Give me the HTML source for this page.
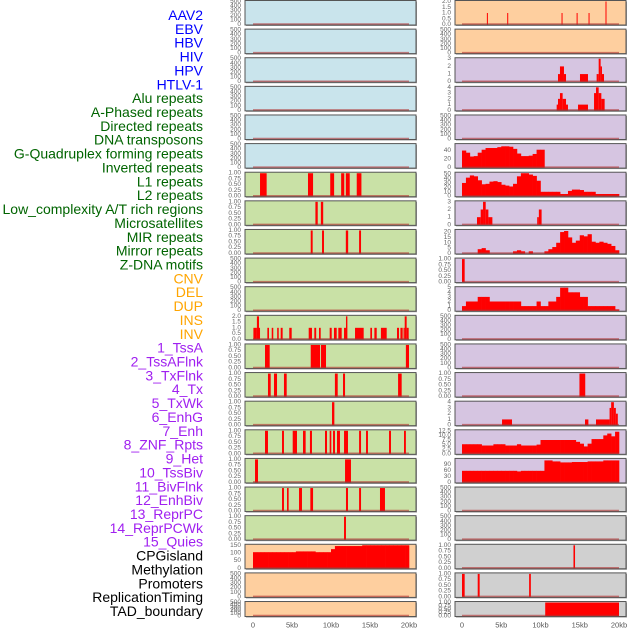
<!DOCTYPE html>
<html><head><meta charset="utf-8"><style>
html,body{margin:0;padding:0;background:#fff;}
svg{display:block;font-family:"Liberation Sans",sans-serif;}
</style></head><body>
<svg id="chart" width="630" height="630" viewBox="0 0 630 630"></svg>
<script>
// ---- label data ----
const trackLabels = ["AAV2","EBV","HBV","HIV","HPV","HTLV-1","Alu repeats","A-Phased repeats","Directed repeats","DNA transposons","G-Quadruplex forming repeats","Inverted repeats","L1 repeats","L2 repeats","Low_complexity A/T rich regions","Microsatellites","MIR repeats","Mirror repeats","Z-DNA motifs","CNV","DEL","DUP","INS","INV","1_TssA","2_TssAFlnk","3_TxFlnk","4_Tx","5_TxWk","6_EnhG","7_Enh","8_ZNF_Rpts","9_Het","10_TssBiv","11_BivFlnk","12_EnhBiv","13_ReprPC","14_ReprPCWk","15_Quies","CPGisland","Methylation","Promoters","ReplicationTiming","TAD_boundary"];
const labelGroups = ["v","v","v","v","v","v","r","r","r","r","r","r","r","r","r","r","r","r","r","c","c","c","c","c","s","s","s","s","s","s","s","s","s","s","s","s","s","s","s","k","k","k","k","k"];
const xTickValues = [0,5,10,15,20];
const xTickLabels = ["0","5kb","10kb","15kb","20kb"];

// ---- left column data (segments: [startKb, endKb, value]) ----
const L6 = [[0.9,1.75,1],[7.05,7.7,1],[9.9,10.4,1],[11.3,11.7,1],[11.9,12.4,1],[13.3,13.9,1]];
const L7 = [[8.0,8.3,1],[8.7,9.0,1]];
const L8 = [[7.4,7.65,1],[8.85,9.1,1],[11.9,12.2,1],[13.6,13.85,1]];
const L11 = [[0.05,0.5,1],[0.5,0.77,2],[0.77,0.9,1],[1.84,2.05,1],[2.4,2.6,1],[3.1,3.3,1],[3.55,3.8,1],[4.65,4.96,1],[7.14,7.56,1],[7.86,8.1,1],[8.46,8.68,1],[9.83,10.09,1],[10.38,10.73,1],[10.94,11.37,1],[11.67,11.92,1],[11.92,12.1,2],[13.08,14.19,1],[15.04,15.26,1],[15.56,15.86,1],[16.4,17.14,1],[18.46,18.72,1],[18.9,19.19,1],[19.3,19.45,1],[19.45,19.7,2],[19.7,19.96,1]];
const L12 = [[1.54,2.14,1],[7.4,8.6,1],[8.72,9.36,1],[19.6,20.0,1]];
const L13 = [[1.92,2.27,1],[2.69,3.08,1],[3.97,4.32,1],[10.5,10.86,1],[11.54,11.8,1],[18.6,19.06,1]];
const L14 = [[10.13,10.43,1]];
const L15 = [[1.54,1.92,1],[3.72,3.97,1],[5.09,5.64,1],[6.41,6.75,1],[7.3,7.56,1],[9.23,9.49,1],[9.83,10.04,1],[10.26,10.51,1],[10.77,11.15,1],[11.67,12.18,1],[13.6,13.85,1],[14.49,14.74,1],[17.44,17.69,1],[19.36,19.6,1]];
const L16 = [[0.26,0.64,1],[11.8,12.56,1]];
const L17 = [[3.72,3.97,1],[4.36,4.57,1],[5.9,6.28,1],[7.35,7.7,1],[11.92,12.18,1],[13.6,13.85,1],[16.28,16.92,1]];
const L18 = [[11.67,11.92,1]];
const L19bins = [105,105,105,105,105,105,105,105,105,105,105,110,110,110,110,110,105,105,105,105,125,145,145,145,145,145,145,145,150,150,150,150,150,150,150,150,150,150,150,150];

// ---- right column data ----
const R0 = [[3.17,3.3,1],[5.76,5.88,1],[12.68,12.8,1],[14.6,14.72,1],[16.12,16.24,1],[18.28,18.4,2]];
const R2 = [[12.23,12.48,1],[12.48,12.99,2],[12.99,13.25,1],[15.03,16.05,1],[17.15,17.41,1],[17.41,17.66,3],[17.66,17.83,2],[17.83,18.09,1]];
const R3 = [[12.06,12.23,1],[12.23,12.48,2],[12.48,12.82,3],[12.82,13.25,2],[13.25,13.5,1],[14.78,16.05,1],[16.82,17.07,3],[17.07,17.41,4],[17.41,17.75,3],[17.75,18.17,2]];
const R5bins = [40,35,26,27,35,42,46,46,46,48,50,50,49,44,33,27,27,28,32,42,42,0,0,0,0,0,0,0,0,0,0,0,0,0,0,0,0,0,0,0];
const R6bins = [30,42,47,45,36,27,28,33,34,32,26,24,22,28,45,52,52,49,46,35,10,10,10,10,10,5,5,12,15,15,14,10,10,10,5,5,5,5,5,5];
const R7 = [[1.91,2.38,1],[2.38,2.68,2],[2.68,3.02,3],[3.02,3.36,2],[3.36,3.87,1],[9.58,9.79,1],[9.79,10.14,2]];
const R8bins = [0,0,0,0,4,5,3,0,0,0,0,0,0,2,3,2,0,2,0,0,0,2,4,6,10,20,21,15,10,12,17,16,18,11,10,11,10,9,7,3];
const R9 = [[0,0.34,1]];
const R10bins = [1,2,2,2,3,3,3,2,2,2,2,2,2,2,2,1,1,1,1,2,1,1,2,2,3,5,5,4,4,4,3,3,1,1,1,1,1,1,1,0.3];
const R13 = [[14.96,15.7,1]];
const R14 = [[5.1,6.37,1],[15.67,16.1,1],[17.07,18.8,1],[18.8,19.0,3],[19.0,19.35,4],[19.35,19.6,3],[19.6,19.85,2]];
const R15bins = [5.2,5.2,5.2,5.2,5.2,4.5,4.5,4.5,5.2,5.2,5.2,4.5,4.5,4.5,5.2,4.5,4.5,4.5,4.5,5,7.5,7.5,7.5,7.5,7.5,7.5,7.5,7.5,7.5,6.5,5.5,4,5.5,8,8,8,10,11,9.5,12];
const R16bins = [58,58,58,58,58,58,58,58,58,58,58,58,58,58,55,58,58,58,58,58,58,110,110,105,105,100,100,100,102,102,102,102,105,105,105,105,110,110,110,110];
const R19 = [[14.2,14.4,1]];
const R20 = [[0,0.34,1],[2.0,2.25,1],[8.55,8.77,1]];
const R21 = [[10.6,20,1]];

// ---- tick sets ----
const ticksEmpty = [0,100,200,300,400,500];
const ticksBin = [0,0.25,0.5,0.75,1];
const ticks2 = [0,0.5,1,1.5,2];
const ticksCpg = [0,50,100,150];

const leftTracks = [
 {bg:"#c9e4ec",t:ticksEmpty,m:500,d:0},{bg:"#c9e4ec",t:ticksEmpty,m:500,d:0},{bg:"#c9e4ec",t:ticksEmpty,m:500,d:0},
 {bg:"#c9e4ec",t:ticksEmpty,m:500,d:0},{bg:"#c9e4ec",t:ticksEmpty,m:500,d:0},{bg:"#c9e4ec",t:ticksEmpty,m:500,d:0},
 {bg:"#c9e1a6",t:ticksBin,m:1,d:2,seg:L6},{bg:"#c9e1a6",t:ticksBin,m:1,d:2,seg:L7},{bg:"#c9e1a6",t:ticksBin,m:1,d:2,seg:L8},
 {bg:"#c9e1a6",t:ticksEmpty,m:500,d:0},{bg:"#c9e1a6",t:ticksEmpty,m:500,d:0},
 {bg:"#c9e1a6",t:ticks2,m:2,d:1,seg:L11},
 {bg:"#c9e1a6",t:ticksBin,m:1,d:2,seg:L12},{bg:"#c9e1a6",t:ticksBin,m:1,d:2,seg:L13},{bg:"#c9e1a6",t:ticksBin,m:1,d:2,seg:L14},
 {bg:"#c9e1a6",t:ticksBin,m:1,d:2,seg:L15},{bg:"#c9e1a6",t:ticksBin,m:1,d:2,seg:L16},{bg:"#c9e1a6",t:ticksBin,m:1,d:2,seg:L17},
 {bg:"#c9e1a6",t:ticksBin,m:1,d:2,seg:L18},
 {bg:"#fecf9f",t:ticksCpg,m:150,d:0,bins:L19bins},
 {bg:"#fecf9f",t:ticksEmpty,m:500,d:0},{bg:"#fecf9f",t:ticksEmpty,m:500,d:0}
];
const rightTracks = [
 {bg:"#fecf9f",t:ticks2,m:2,d:1,seg:R0},{bg:"#fecf9f",t:ticksEmpty,m:500,d:0},
 {bg:"#d6c5e1",t:[0,1,2,3],m:3,d:0,seg:R2},{bg:"#d6c5e1",t:[0,1,2,3,4],m:4,d:0,seg:R3},
 {bg:"#d6c5e1",t:ticksEmpty,m:500,d:0},
 {bg:"#d6c5e1",t:[0,20,40],m:54,d:0,bins:R5bins},
 {bg:"#d6c5e1",t:[0,10,20,30,40,50],m:52,d:0,bins:R6bins},
 {bg:"#d6c5e1",t:[0,1,2,3],m:3,d:0,seg:R7},
 {bg:"#d6c5e1",t:[0,5,10,15,20],m:21.5,d:0,bins:R8bins},
 {bg:"#d6c5e1",t:ticksBin,m:1,d:2,seg:R9},
 {bg:"#d6c5e1",t:[0,1,2,3,4,5],m:5,d:0,bins:R10bins},
 {bg:"#d6c5e1",t:ticksEmpty,m:500,d:0},{bg:"#d6c5e1",t:ticksEmpty,m:500,d:0},
 {bg:"#d6c5e1",t:ticksBin,m:1,d:2,seg:R13},
 {bg:"#d6c5e1",t:[0,1,2,3,4],m:4,d:0,seg:R14},
 {bg:"#d6c5e1",t:[0,2.5,5,7.5,10,12.5],m:12.5,d:1,bins:R15bins},
 {bg:"#d6c5e1",t:[0,30,60,90],m:115,d:0,bins:R16bins},
 {bg:"#d0d0d0",t:ticksEmpty,m:500,d:0},{bg:"#d0d0d0",t:ticksEmpty,m:500,d:0},
 {bg:"#d0d0d0",t:ticksBin,m:1,d:2,seg:R19},{bg:"#d0d0d0",t:ticksBin,m:1,d:2,seg:R20},
 {bg:"#d0d0d0",t:ticksBin,m:1,d:2,seg:R21}
];

const NS = "http://www.w3.org/2000/svg";
const svg = document.getElementById("chart");
function mk(tag, attrs, parent){
  const e = document.createElementNS(NS, tag);
  for (const k in attrs) e.setAttribute(k, attrs[k]);
  (parent||svg).appendChild(e);
  return e;
}
const groupColor = {v:"#0000ff", r:"#006400", c:"#ffa500", s:"#a020f0", k:"#000000"};

// labels
const labelStep = (611-15)/(trackLabels.length-1);
trackLabels.forEach((txt,i)=>{
  const t = mk("text",{x:203,y:15+i*labelStep,"text-anchor":"end","dominant-baseline":"central","font-size":"14",fill:groupColor[labelGroups[i]]});
  t.textContent = txt;
  
  
});

const cols = [
  {left:245, right:416, x0:253, x20:409, tracks:leftTracks, name:"left"},
  {left:455, right:626, x0:462, x20:619, tracks:rightTracks, name:"right"}
];

cols.forEach(col=>{
  const xs = kb => col.x0 + (col.x20-col.x0)*kb/20;
  col.tracks.forEach((tr,i)=>{
    const top = 0.5 + i*28.62;
    const h = (i===21) ? 15 : 24.5;
    const bot = top + h;
    const g = mk("g",{});
    
    
    const bg = mk("rect",{x:col.left+1,y:top+1,width:col.right-col.left,height:h,fill:"#9a9a9a"},g);
    
    
    const r = mk("rect",{x:col.left,y:top,width:col.right-col.left,height:h,fill:tr.bg,stroke:"#555",'stroke-width':1},g);
    
    
    const ys = v => (bot-0.5) - (h-1.5)*v/tr.m;
    if (tr.seg) tr.seg.forEach(s=>{
      const b = mk("rect",{x:xs(s[0]),y:ys(s[2]),width:Math.max(1,xs(s[1])-xs(s[0])),height:ys(0)-ys(s[2]),fill:"#ff0000"},g);
      
      
    });
    if (tr.bins) tr.bins.forEach((v,k)=>{
      if (v<=0) return;
      const b = mk("rect",{x:xs(k*0.5),y:ys(v),width:xs((k+1)*0.5)-xs(k*0.5)+0.3,height:ys(0)-ys(v),fill:"#ff0000"},g);
      
      
    });
    const bl = mk("line",{x1:xs(0),x2:xs(20),y1:bot-1,y2:bot-1,stroke:"#b03030","stroke-opacity":"0.6","stroke-width":1.5},g);
    
    
    tr.t.forEach(v=>{
      const t = mk("text",{x:col.left-4,y:ys(v),"text-anchor":"end","dominant-baseline":"central","font-size":"6.5",fill:"#666"},g);
      t.textContent = v.toFixed(tr.d);
      
      
    });
  });
  xTickValues.forEach((v,k)=>{
    const t = mk("text",{x:xs(v),y:625,"text-anchor":"middle","dominant-baseline":"central","font-size":"7.5",fill:"#555"});
    t.textContent = xTickLabels[k];
    
    
  });
});
</script>
</body></html>
